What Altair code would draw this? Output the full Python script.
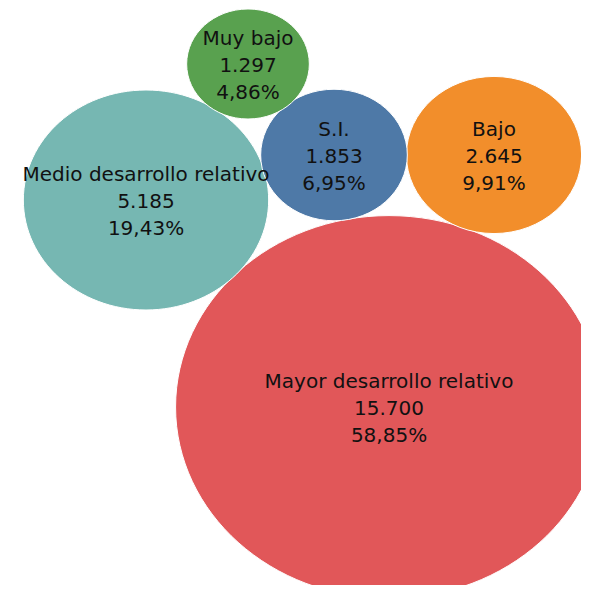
import altair as alt
import pandas as pd

categories = ["Mayor desarrollo relativo", "Medio desarrollo relativo", "Bajo", "S.I.", "Muy bajo"]
values = [15700, 5185, 2645, 1853, 1297]
colors = ["#e15759", "#76b7b2", "#f28e2b", "#4e79a7", "#59a14f"]

# packed-bubble layout (layout units of the packing, not data values)
layout_x = [389, 146, 494, 334, 248]
layout_y = [407, 200, 155, 155, 64]

total = sum(values)

def fmt_int(v):
    return f"{v:,}".replace(",", ".")

def fmt_pct(v):
    return f"{100 * v / total:.2f}%".replace(".", ",")

df = pd.DataFrame({
    "cat": categories,
    "value": values,
    "lx": layout_x,
    "ly": layout_y,
    "label": [f"{c}\n{fmt_int(v)}\n{fmt_pct(v)}" for c, v in zip(categories, values)],
})

W, H = 573, 577
k = 1.5276
max_size = (2 * k * (max(values) ** 0.5)) ** 2
ellipse = "M-1.115,0A1.115,1,0,1,0,1.115,0A1.115,1,0,1,0,-1.115,0Z"

xs = alt.Scale(domain=[8, 8 + W], nice=False, zero=False)
ys = alt.Scale(domain=[8, 8 + H], reverse=True, nice=False, zero=False)

base = alt.Chart(df).encode(
    x=alt.X("lx:Q", scale=xs, axis=None),
    y=alt.Y("ly:Q", scale=ys, axis=None),
)

bubbles = base.mark_point(shape=ellipse, filled=True, opacity=1, clip=True,
                          stroke="white", strokeWidth=1).encode(
    size=alt.Size("value:Q", scale=alt.Scale(domain=[0, max(values)], range=[0, max_size]), legend=None),
    color=alt.Color("cat:N", scale=alt.Scale(domain=categories, range=colors), legend=None),
)

labels = base.mark_text(font="DejaVu Sans", fontSize=20, lineBreak="\n", lineHeight=27, dy=-25,
                        color="#111111", align="center", baseline="middle").encode(
    text="label:N",
)

chart = (bubbles + labels).properties(
    width=W, height=H, padding=0, autosize=alt.AutoSizeParams(type="none")
).configure_view(stroke=None)

chart.save("out.html", embed_options={"renderer": "svg", "actions": False})
